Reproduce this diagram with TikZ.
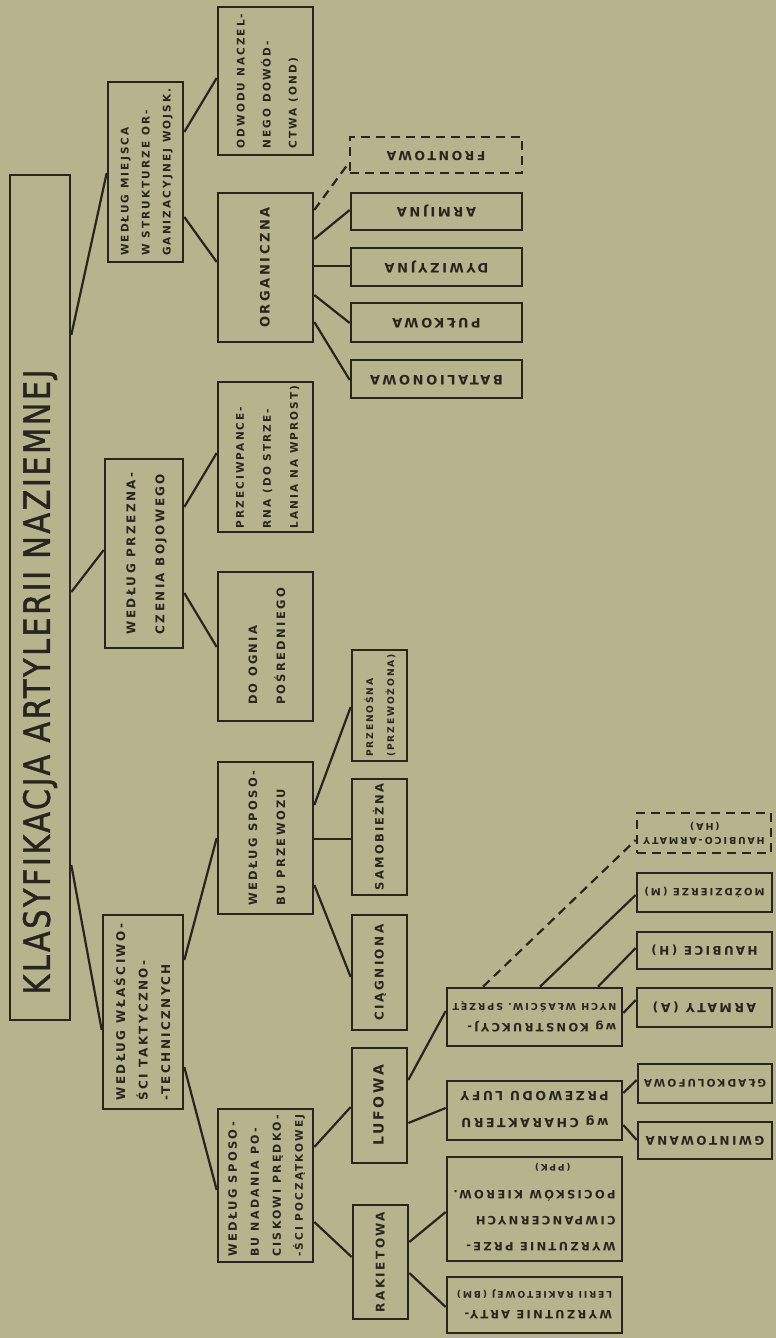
\documentclass[tikz,border=0pt]{standalone}
\usepackage{fontspec}
\setmainfont{DejaVu Sans}
\newfontfamily\hand{DejaVu Sans}[LetterSpace=20]
\newfontfamily\titlef{DejaVu Sans}[LetterSpace=8,FakeBold=1.2]
\usetikzlibrary{calc}
\definecolor{bg}{RGB}{182,180,140}
\definecolor{ink}{RGB}{40,36,32}
\newcommand\rtu[3]{\rotatebox{90}{\hand\bfseries\fontsize{#1}{#2}\selectfont\begin{tabular}{@{}l@{}}#3\end{tabular}}}
\newcommand\rtd[3]{\rotatebox{180}{\hand\bfseries\fontsize{#1}{#2}\selectfont\begin{tabular}{@{}l@{}}#3\end{tabular}}}
\newcommand\fsz[1]{\fontsize{#1}{#1}\selectfont}
\begin{document}
\begin{tikzpicture}[x=1pt,y=-1pt,
  bx/.style={draw=ink,line width=2.6pt,rectangle,inner sep=0pt,text=ink},
  cn/.style={draw=ink,line width=2.2pt},
  dsh/.style={dash pattern=on 9pt off 6pt}]
\fill[bg] (0,0) rectangle (776,1338);
\useasboundingbox (0,0) rectangle (776,1338);
% root
\node[bx,minimum width=60pt,minimum height=845pt] (main) at (40,597.5) {};
\node[text=ink,inner sep=0pt] (title) at (40,682) {\rotatebox{90}{\resizebox{625pt}{27pt}{\titlef KLASYFIKACJA ARTYLERII NAZIEMNEJ}}};
% level 1
\node[bx,minimum width=75pt,minimum height=180pt] (miejsca) at (145.5,172) {\rtu{10.5}{21}{WEDŁUG MIEJSCA\\W STRUKTURZE OR-\\GANIZACYJNEJ WOJSK.}};
\node[bx,minimum width=78pt,minimum height=189pt] (przezn) at (144,553.5) {\rtu{12}{29}{WEDŁUG PRZEZNA-\\CZENIA BOJOWEGO}};
\node[bx,minimum width=80pt,minimum height=194pt] (wlasc) at (143,1012) {\rtu{12}{22.5}{WEDŁUG WŁAŚCIWO-\\ŚCI TAKTYCZNO-\\-TECHNICZNYCH}};
% level 2
\node[bx,minimum width=95pt,minimum height=148pt] (dowodu) at (265.5,81) {\rtu{10.5}{26}{ODWODU NACZEL-\\NEGO DOWÓD-\\CTWA (OND)}};
\node[bx,minimum width=95pt,minimum height=149pt] (organ) at (265.5,267.5) {\rtu{13}{20}{ORGANICZNA}};
\node[bx,minimum width=95pt,minimum height=150pt] (ppanc) at (265.5,457) {\rtu{10.5}{27}{PRZECIWPANCE-\\RNA (DO STRZE-\\LANIA NA WPROST)}};
\node[bx,minimum width=95pt,minimum height=149pt] (ognia) at (265.5,646.5) {\rtu{11.5}{28}{DO OGNIA\\POŚREDNIEGO}};
\node[bx,minimum width=95pt,minimum height=152pt] (przewoz) at (265.5,838) {\rtu{11.5}{28}{WEDŁUG SPOSO-\\BU PRZEWOZU}};
\node[bx,minimum width=95pt,minimum height=153pt] (nadania) at (265.5,1185.5) {\rtu{10.5}{22}{\fsz{11.5}WEDŁUG SPOSO-\\\fsz{11}BU NADANIA PO-\\\fsz{11}CISKOWI PRĘDKO-\\-ŚCI POCZĄTKOWEJ}};
% organiczna leaves
\node[bx,dsh,minimum width=172pt,minimum height=36pt] (frontowa) at (436,155) {\rtd{12.5}{20}{FRONTOWA}};
\node[bx,minimum width=171pt,minimum height=37pt] (armijna) at (436.5,211.5) {\rtd{13}{20}{ARMIJNA}};
\node[bx,minimum width=171pt,minimum height=38pt] (dywiz) at (436.5,267) {\rtd{13}{20}{DYWIZYJNA}};
\node[bx,minimum width=171pt,minimum height=39pt] (pulk) at (436.5,322.5) {\rtd{13}{20}{PUŁKOWA}};
\node[bx,minimum width=171pt,minimum height=38pt] (batal) at (436.5,379) {\rtd{13}{20}{BATALIONOWA}};
% przewoz leaves
\node[bx,minimum width=55pt,minimum height=111pt] (przenosna) at (379.5,705.5) {\rtu{9.2}{21}{PRZENOŚNA\\(PRZEWOŻONA)}};
\node[bx,minimum width=55pt,minimum height=116pt] (samob) at (379.5,837) {\rtu{11.5}{20}{SAMOBIEŻNA}};
\node[bx,minimum width=55pt,minimum height=115pt] (ciagn) at (379.5,972.5) {\rtu{12}{20}{CIĄGNIONA}};
% nadania children
\node[bx,minimum width=55pt,minimum height=115pt] (lufowa) at (379.5,1105.5) {\rtu{14}{20}{LUFOWA}};
\node[bx,minimum width=55pt,minimum height=114pt] (rakiet) at (380.5,1262) {\rtu{12}{20}{RAKIETOWA}};
% lufowa children
\node[bx,minimum width=175pt,minimum height=58pt] (konstr) at (534.5,1017) {\rtd{10}{20}{\fsz{11.5}wg KONSTRUKCYJ-\\\fsz{9.5}NYCH WŁAŚCIW. SPRZĘT}};
\node[bx,minimum width=175pt,minimum height=59pt] (charakt) at (534.5,1110.5) {\rtd{12.5}{27}{wg CHARAKTERU\\PRZEWODU LUFY}};
% rakietowa children
\node[bx,minimum width=175pt,minimum height=94pt] (wppk) at (534.5,1209) {\rtd{11.5}{26}{WYRZUTNIE PRZE-\\CIWPANCERNYCH\\POCISKÓW KIEROW.\\\fontsize{9}{12}\selectfont\hspace*{45pt}(PPK)}};
\node[bx,minimum width=175pt,minimum height=56pt] (wbm) at (534.5,1305) {\rtd{10}{19}{\fsz{11.5}WYRZUTNIE ARTY-\\\fsz{9.2}LERII RAKIETOWEJ (BM)}};
% charakter leaves
\node[bx,minimum width=134pt,minimum height=39pt] (gladko) at (705,1083.5) {\rtd{10.5}{20}{GŁADKOLUFOWA}};
\node[bx,minimum width=134pt,minimum height=37pt] (gwint) at (705,1140.5) {\rtd{12}{20}{GWINTOWANA}};
% konstr leaves
\node[bx,minimum width=135pt,minimum height=39pt] (armaty) at (704.5,1007.5) {\rtd{12.5}{20}{ARMATY (A)}};
\node[bx,minimum width=135pt,minimum height=37pt] (haubice) at (704.5,950.5) {\rtd{12}{20}{HAUBICE (H)}};
\node[bx,minimum width=135pt,minimum height=39pt] (mozdz) at (704.5,892.5) {\rtd{10}{20}{MOŹDZIERZE (M)}};
\node[bx,dsh,minimum width=134pt,minimum height=40pt] (hauarm) at (704,833) {\rtd{9.5}{14}{HAUBICO-ARMATY\\\hspace*{45pt}(HA)}};
% connectors
\draw[cn] ([yshift=262.5pt]main.east) -- ([yshift=-1pt]miejsca.west);
\draw[cn] ([yshift=5.5pt]main.east) -- ([yshift=3.5pt]przezn.west);
\draw[cn] ([yshift=-267.5pt]main.east) -- ([yshift=-18pt]wlasc.west);
\draw[cn] ([yshift=40pt]miejsca.east) -- ([yshift=3pt]dowodu.west);
\draw[cn] ([yshift=-45pt]miejsca.east) -- ([yshift=5.5pt]organ.west);
\draw[cn,dsh] ([yshift=57.5pt]organ.east) -- ([yshift=-8pt]frontowa.west);
\draw[cn] ([yshift=28.5pt]organ.east) -- ([yshift=1.5pt]armijna.west);
\draw[cn] ([yshift=1.5pt]organ.east) -- ([yshift=1pt]dywiz.west);
\draw[cn] ([yshift=-27.5pt]organ.east) -- ([yshift=-0.5pt]pulk.west);
\draw[cn] ([yshift=-54.5pt]organ.east) -- ([yshift=-1pt]batal.west);
\draw[cn] ([yshift=46.5pt]przezn.east) -- ([yshift=4pt]ppanc.west);
\draw[cn] ([yshift=-39.5pt]przezn.east) -- ([yshift=-0.5pt]ognia.west);
\draw[cn] ([yshift=52pt]wlasc.east) -- (przewoz.west);
\draw[cn] ([yshift=-55pt]wlasc.east) -- ([yshift=-4.5pt]nadania.west);
\draw[cn] ([yshift=33pt]przewoz.east) -- ([yshift=-1.5pt]przenosna.west);
\draw[cn] ([yshift=-1pt]przewoz.east) -- ([yshift=-2pt]samob.west);
\draw[cn] ([yshift=-47pt]przewoz.east) -- ([yshift=-4.5pt]ciagn.west);
\draw[cn] ([yshift=38.5pt]nadania.east) -- ([yshift=-1.5pt]lufowa.west);
\draw[cn] ([yshift=-36.5pt]nadania.east) -- ([yshift=5pt]rakiet.west);
\draw[cn] ([yshift=25.5pt]lufowa.east) -- ([yshift=6pt]konstr.west);
\draw[cn] ([yshift=-17.5pt]lufowa.east) -- ([yshift=2.5pt]charakt.west);
\draw[cn] ([yshift=20pt]rakiet.east) -- ([yshift=-3pt]wppk.west);
\draw[cn] ([yshift=-11pt]rakiet.east) -- ([yshift=-2pt]wbm.west);
\draw[cn] ([yshift=17.5pt]charakt.east) -- ([yshift=3.5pt]gladko.west);
\draw[cn] ([yshift=-14.5pt]charakt.east) -- ([yshift=0.5pt]gwint.west);
\draw[cn] ([yshift=4pt]konstr.east) -- ([yshift=7.5pt]armaty.west);
\draw[cn] ([xshift=63.5pt]konstr.north) -- ([yshift=2.5pt]haubice.west);
\draw[cn] ([xshift=5.5pt]konstr.north) -- ([yshift=-2.5pt]mozdz.west);
\draw[cn,dsh] ([xshift=-51.5pt]konstr.north) -- ([yshift=-7pt]hauarm.west);
\end{tikzpicture}
\end{document}
